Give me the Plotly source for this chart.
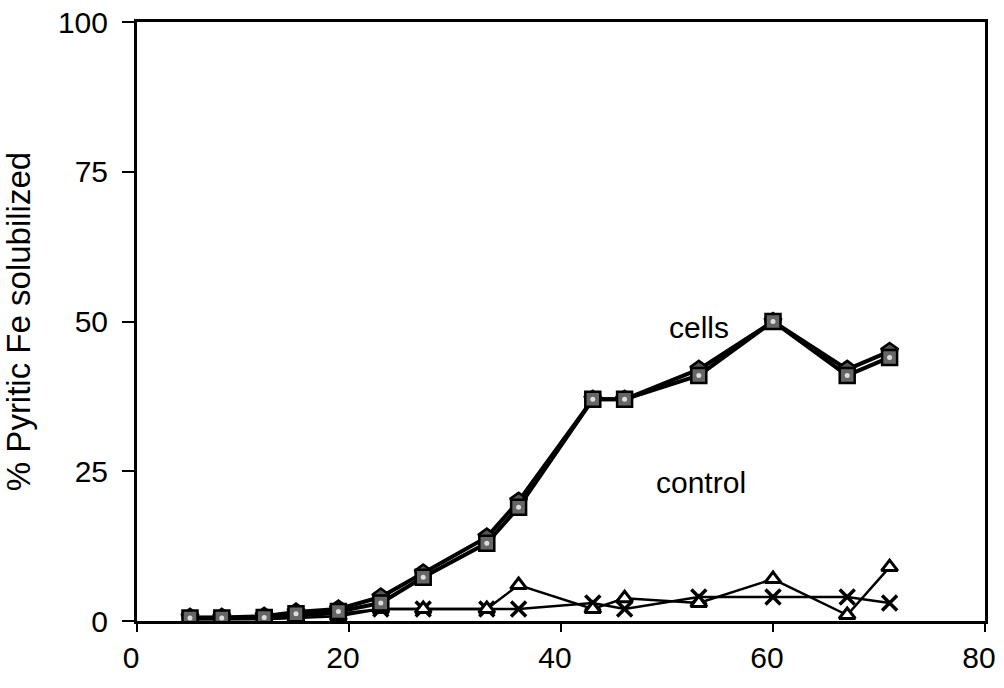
import plotly.graph_objects as go

days = [5, 8, 12, 15, 19, 23, 27, 33, 36, 43, 46, 53, 60, 67, 71]
cells_a = [0.6, 0.6, 0.8, 1.5, 2.0, 4.0, 8.0, 14.0, 20.0, 37.0, 37.0, 42.0, 50.0, 42.0, 45.0]
cells_b = [0.5, 0.5, 0.6, 1.2, 1.6, 3.0, 7.3, 13.0, 19.0, 37.0, 37.0, 41.0, 50.0, 41.0, 44.0]
control_a = [0.3, 0.3, 0.3, 0.5, 0.8, 2.0, 2.0, 2.0, 6.0, 2.0, 3.8, 3.0, 7.0, 1.0, 9.0]
control_b = [0.3, 0.3, 0.4, 0.8, 1.2, 2.0, 2.0, 2.0, 2.0, 3.0, 2.0, 4.0, 4.0, 4.0, 3.0]
x_ticks = [0, 20, 40, 60, 80]
y_ticks = [0, 25, 50, 75, 100]

FONT = "Liberation Sans, Arial"

fig = go.Figure()
fig.add_trace(go.Scatter(x=days, y=control_b, mode="lines+markers", name="control x",
                         line=dict(color="black", width=2.5),
                         marker=dict(symbol="x-thin", size=15, line=dict(color="black", width=3.5))))
fig.add_trace(go.Scatter(x=days, y=control_a, mode="lines+markers", name="control tri",
                         line=dict(color="black", width=2.5),
                         marker=dict(symbol="triangle-up", size=14, color="white",
                                     line=dict(color="black", width=3))))
fig.add_trace(go.Scatter(x=days, y=cells_a, mode="lines+markers", name="cells diamond",
                         line=dict(color="black", width=4),
                         marker=dict(symbol="pentagon", size=17, color="#555",
                                     line=dict(color="black", width=2.5))))
fig.add_trace(go.Scatter(x=days, y=cells_b, mode="lines+markers", name="cells square",
                         line=dict(color="black", width=4),
                         marker=dict(symbol="square", size=15, color="#666",
                                     line=dict(color="black", width=2.5))))
fig.add_trace(go.Scatter(x=days, y=cells_b, mode="markers", name="cells dots",
                         hoverinfo="skip",
                         marker=dict(symbol="circle", size=5, color="#ddd",
                                     line=dict(color="#ddd", width=0))))

fig.add_annotation(x=53.0, y=49.0, text="cells", showarrow=False,
                   font=dict(family=FONT, size=30, color="black"))
fig.add_annotation(x=53.2, y=23.2, text="control", showarrow=False,
                   font=dict(family=FONT, size=30, color="black"))

axis_common = dict(showgrid=False, zeroline=False, showline=True, linecolor="black",
                   linewidth=3, mirror=True, ticks="outside", automargin=False,
                   tickwidth=1.5, tickcolor="black", ticklabeloverflow="allow",
                   tickfont=dict(family=FONT, size=30, color="black"))
fig.update_xaxes(range=[0, 80], tickvals=x_ticks, ticklen=8, ticklabelshift=-6,
                 **axis_common)
fig.update_yaxes(range=[0, 100], tickvals=y_ticks, ticklen=12, ticklabelstandoff=8,
                 title=dict(text="% Pyritic Fe solubilized", standoff=18,
                            font=dict(family=FONT, size=33, color="black")),
                 **axis_common)
fig.update_layout(width=1004, height=688, plot_bgcolor="white", paper_bgcolor="white",
                  showlegend=False, margin=dict(l=137, r=19, t=22, b=67))
fig.write_html("out.html", config={"displayModeBar": False},
               post_script="document.body.style.margin='0';document.body.style.overflow='hidden';")
